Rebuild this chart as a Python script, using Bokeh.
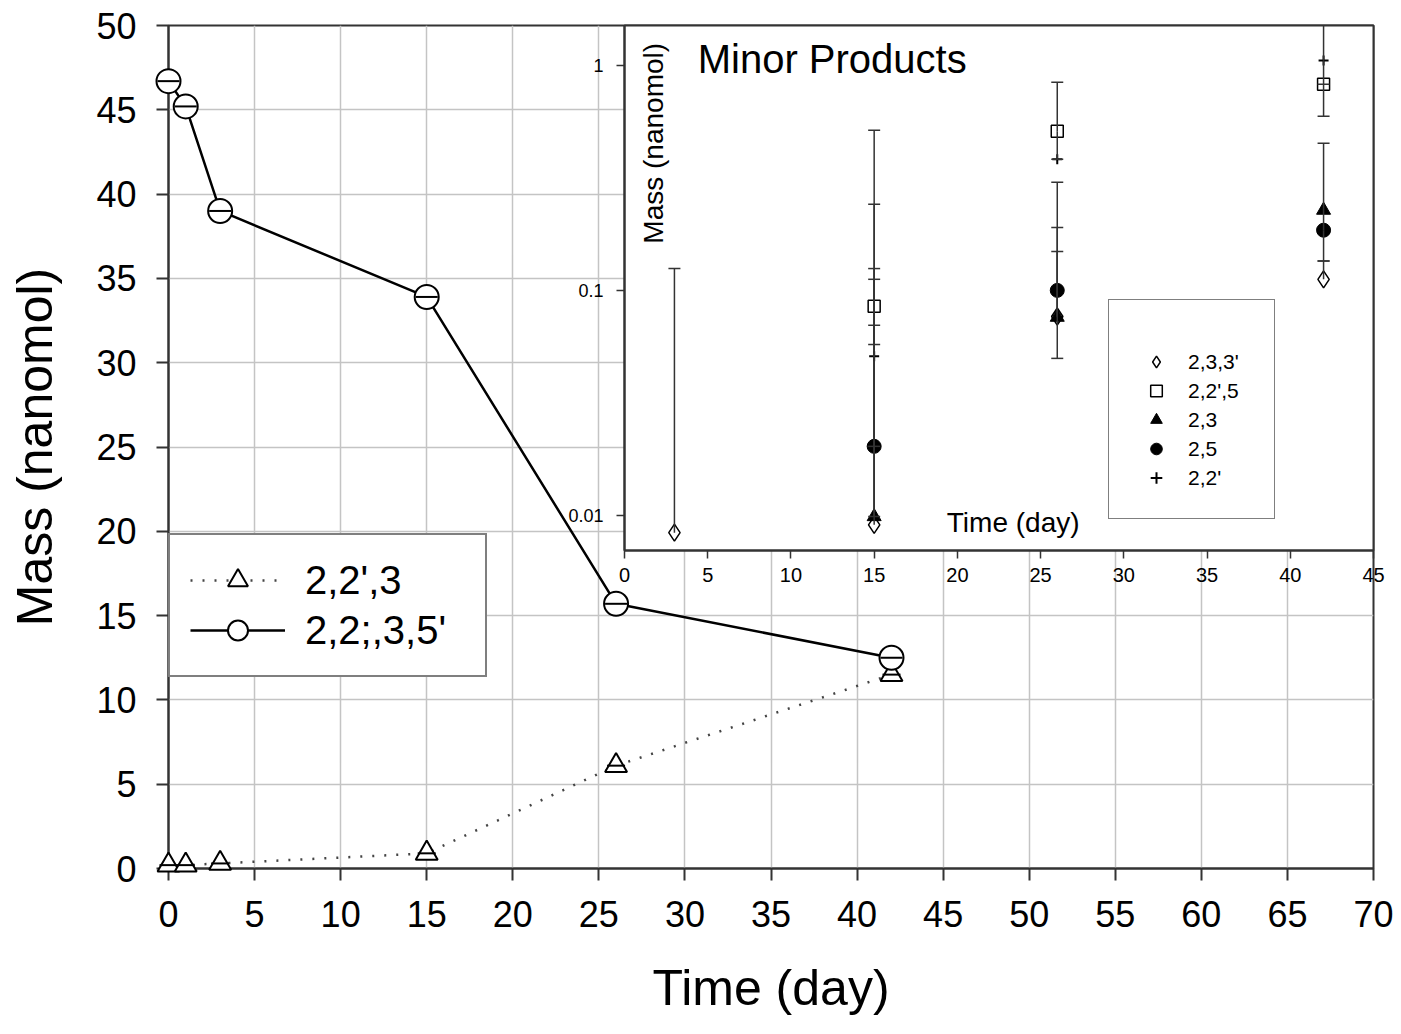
import math
from bokeh.plotting import figure
from bokeh.models import (Range1d, FixedTicker, Legend, LegendItem, Label,
                          Whisker, TeeHead, ColumnDataSource)
from bokeh.embed import file_html
from bokeh.resources import INLINE

FONT = "Liberation Sans"

# ---------------- main chart data ----------------
days = [0, 1, 3, 15, 26, 42]
pcb_223 = [0.2, 0.2, 0.3, 0.9, 6.1, 11.5]          # 2,2',3
pcb_2235 = [46.7, 45.2, 39.0, 33.9, 15.7, 12.5]     # 2,2',3,5'
main_labels = ["2,2',3", "2,2;,3,5'"]
main_x_ticks = list(range(0, 71, 5))
main_y_ticks = list(range(0, 51, 5))

# ---------------- inset (minor products) data ----------------
inset_days = [3, 15, 26, 42]
m_233 = [0.0084, 0.0091, 0.0766, 0.112]     # 2,3,3'
m_225 = [None, 0.085, 0.509, 0.823]         # 2,2',5
m_23 = [None, 0.0099, 0.076, 0.227]         # 2,3
m_25 = [None, 0.0203, 0.100, 0.185]         # 2,5
m_22 = [None, 0.051, 0.382, 1.05]           # 2,2'
# upper / lower error limits
m_233_hi = [0.125, 0.070, 0.149, 0.135]
m_233_lo = [None, None, None, None]
m_225_hi = [None, 0.514, 0.84, None]
m_225_lo = [None, 0.0575, 0.382, 0.593]
m_23_hi = [None, 0.112, 0.19, None]
m_23_lo = [None, None, None, None]
m_25_hi = [None, 0.125, 0.302, 0.45]
m_25_lo = [None, 0.0099, 0.0499, 0.135]
m_22_hi = [None, 0.241, None, 2.0]
m_22_lo = [None, 0.0203, None, 0.823]
inset_labels = ["2,3,3'", "2,2',5", "2,3", "2,5", "2,2'"]
inset_x_ticks = list(range(0, 46, 5))
inset_y_ticks = [0.01, 0.1, 1]

# ---------------- main figure ----------------
p = figure(width=1401, height=1034, x_range=Range1d(0, 70), y_range=Range1d(0, 50),
           output_backend="svg", toolbar_location=None,
           min_border_left=168, min_border_right=28, min_border_top=25,
           min_border_bottom=166)
p.outline_line_color = "#333333"
p.outline_line_width = 2
p.xaxis.ticker = FixedTicker(ticks=main_x_ticks)
p.yaxis.ticker = FixedTicker(ticks=main_y_ticks)
p.grid.grid_line_color = "#c4c4c4"
p.grid.grid_line_width = 1.5
for ax in p.axis:
    ax.axis_line_color = "#333333"
    ax.axis_line_width = 2
    ax.major_tick_out = 12
    ax.major_tick_in = 0
    ax.major_tick_line_width = 2
    ax.major_tick_line_color = "#333333"
    ax.minor_tick_out = 0
    ax.minor_tick_in = 0
    ax.major_label_text_font = FONT
    ax.major_label_text_font_size = "36px"
    ax.major_label_text_color = "black"
    ax.major_label_standoff = 20
    ax.axis_label_text_font = FONT
    ax.axis_label_text_font_size = "50px"
    ax.axis_label_text_font_style = "normal"
    ax.axis_label_text_color = "black"
    ax.axis_label_standoff = 30
p.xaxis.axis_label = "Time (day)"
p.yaxis.axis_label = "Mass (nanomol)"

r1l = p.line(days, pcb_223, line_dash="2 10", line_width=2.5, line_color="#444444")
r1m = p.scatter(days, pcb_223, marker="triangle", size=22, fill_color="white",
                line_color="black", line_width=2, level="overlay")
p.scatter(days, pcb_223, marker="dash", size=18, line_color="black",
          line_width=2, level="overlay")
r2l = p.line(days, pcb_2235, line_width=2.5, line_color="black")
r2m = p.scatter(days, pcb_2235, marker="circle", size=24, fill_color="white",
                line_color="black", line_width=2, level="overlay")
p.scatter(days, pcb_2235, marker="dash", size=22, line_color="black",
          line_width=2, level="overlay")

leg = Legend(items=[LegendItem(label=main_labels[0], renderers=[r1l, r1m]),
                    LegendItem(label=main_labels[1], renderers=[r2l, r2m])],
             location=(0, 191), border_line_color="black", border_line_width=2,
             label_text_font=FONT, label_text_font_size="40px", label_text_color="black",
             glyph_width=95, glyph_height=50, label_height=50, label_width=160,
             spacing=0, padding=20, label_standoff=20, margin=0,
             background_fill_color="white", background_fill_alpha=1)
p.add_layout(leg)

# ---------------- inset figure ----------------
ins = figure(width=829, height=575, x_range=Range1d(0, 45), y_range=Range1d(0.007, 1.5),
             y_axis_type="log", output_backend="svg", toolbar_location=None,
             min_border_left=60, min_border_right=20, min_border_top=5,
             min_border_bottom=45, border_fill_color=None, border_fill_alpha=0,
             background_fill_color="white",
             styles={"position": "absolute", "left": "564px", "top": "20px"})
ins.outline_line_color = "#333333"
ins.outline_line_width = 2
ins.grid.visible = False
ins.xaxis.ticker = FixedTicker(ticks=inset_x_ticks)
ins.yaxis.ticker = FixedTicker(ticks=inset_y_ticks)
ins.yaxis.major_label_overrides = {t: str(t) for t in inset_y_ticks}
for ax in ins.axis:
    ax.axis_line_color = "#333333"
    ax.axis_line_width = 2
    ax.major_tick_out = 8
    ax.major_tick_in = 0
    ax.major_tick_line_width = 1.5
    ax.major_tick_line_color = "#333333"
    ax.minor_tick_out = 0
    ax.minor_tick_in = 0
    ax.major_label_text_font = FONT
    ax.major_label_text_color = "black"
ins.xaxis.major_label_text_font_size = "20px"
ins.yaxis.major_label_text_font_size = "18px"
ins.xaxis.major_label_standoff = 9
ins.yaxis.major_label_standoff = 13


def add_whiskers(fig, xs, ys, his, los):
    up = dict(x=[], lo=[], hi=[])
    dn = dict(x=[], lo=[], hi=[])
    for x, y, h, l in zip(xs, ys, his, los):
        if y is None:
            continue
        if h is not None:
            up["x"].append(x); up["lo"].append(y); up["hi"].append(h)
        if l is not None:
            dn["x"].append(x); dn["lo"].append(l); dn["hi"].append(y)
    if up["x"]:
        fig.add_layout(Whisker(source=ColumnDataSource(up), base="x", lower="lo", upper="hi",
                               dimension="height", line_color="#333333", line_width=1.5,
                               upper_head=TeeHead(size=12, line_color="#333333", line_width=1.5),
                               lower_head=None, level="glyph"))
    if dn["x"]:
        fig.add_layout(Whisker(source=ColumnDataSource(dn), base="x", lower="lo", upper="hi",
                               dimension="height", line_color="#333333", line_width=1.5,
                               lower_head=TeeHead(size=12, line_color="#333333", line_width=1.5),
                               upper_head=None, level="glyph"))


def pts(xs, ys):
    xx = [x for x, y in zip(xs, ys) if y is not None]
    yy = [y for y in ys if y is not None]
    return xx, yy


series = [
    (m_233, m_233_hi, m_233_lo, dict(marker="diamond", size=17, fill_color="white", line_color="black", line_width=1.5)),
    (m_225, m_225_hi, m_225_lo, dict(marker="square", size=12, fill_color="white", fill_alpha=0, line_color="black", line_width=1.5)),
    (m_23, m_23_hi, m_23_lo, dict(marker="triangle", size=14, fill_color="black", line_color="black", line_width=1)),
    (m_25, m_25_hi, m_25_lo, dict(marker="circle", size=14, fill_color="black", line_color="black", line_width=1)),
    (m_22, m_22_hi, m_22_lo, dict(marker="cross", size=10, line_color="black", line_width=2)),
]
for ys, his, los, _ in series:
    add_whiskers(ins, inset_days, ys, his, los)

inset_items = []
for (ys, his, los, style), lab in zip(series, inset_labels):
    xx, yy = pts(inset_days, ys)
    r = ins.scatter(xx, yy, **style)
    inset_items.append(LegendItem(label=lab, renderers=[r]))

ileg = Legend(items=inset_items, location=(484, 31), border_line_color="black",
              border_line_width=1.5, label_text_font=FONT, label_text_font_size="21px",
              label_text_color="black",
              glyph_width=42, glyph_height=29, label_height=29, label_width=60,
              spacing=0, padding=26, label_standoff=11, margin=0, title=" ",
              title_text_font_size="15px", title_standoff=4,
              background_fill_color="white", background_fill_alpha=1)
ins.add_layout(ileg)

ins.add_layout(Label(x=4.4, y=1.07, text="Minor Products", text_font=FONT,
                     text_font_size="40px", text_baseline="middle", text_align="left",
                     text_color="black"))
ins.add_layout(Label(x=1.75, y=0.45, text="Mass (nanomol)", text_font=FONT,
                     text_font_size="28px", text_baseline="middle", text_align="center",
                     angle=math.pi / 2, text_color="black"))
ins.add_layout(Label(x=23.35, y=0.0093, text="Time (day)", text_font=FONT,
                     text_font_size="28px", text_baseline="middle", text_align="center",
                     text_color="black"))

open("out.html", "w").write(file_html([p, ins], INLINE))
